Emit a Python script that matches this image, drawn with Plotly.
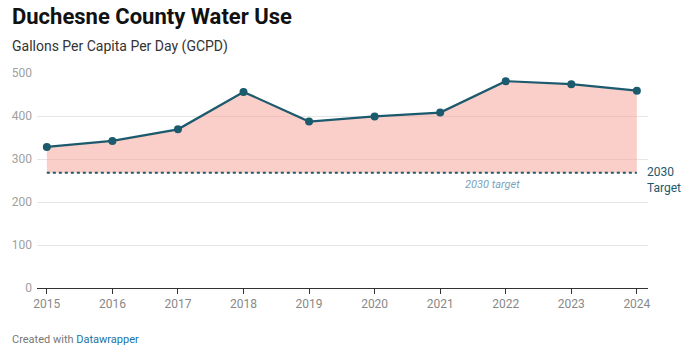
import plotly.graph_objects as go

years = [2015, 2016, 2017, 2018, 2019, 2020, 2021, 2022, 2023, 2024]
gcpd = [328, 342, 369, 456, 387, 399, 408, 481, 474, 459]
target_value = 268
y_ticks = [0, 100, 200, 300, 400, 500]

line_color = "#1c5a6d"
fill_color = "rgba(248,160,148,0.5)"
font = "Roboto"

fig = go.Figure()
fig.add_trace(go.Scatter(x=years, y=[target_value] * len(years), mode="lines",
                         line=dict(color=line_color, width=2, dash="dot"),
                         hoverinfo="skip", showlegend=False))
fig.add_trace(go.Scatter(x=years, y=gcpd, mode="lines+markers", fill="tonexty",
                         fillcolor=fill_color,
                         line=dict(color=line_color, width=2.2),
                         marker=dict(color=line_color, size=8),
                         showlegend=False))

fig.update_layout(
    width=687, height=351,
    margin=dict(l=37, r=39, t=73, b=63),
    paper_bgcolor="white", plot_bgcolor="white",
    font=dict(family=font),
    xaxis=dict(range=[2014.85, 2024.17], tickvals=years, ticktext=[str(y) for y in years],
               showgrid=False, zeroline=False, showline=True, linecolor="#333", linewidth=1,
               ticks="outside", ticklen=5, tickcolor="#333",
               tickfont=dict(size=12, color="#888", family=font)),
    yaxis=dict(range=[0, 500], tickvals=y_ticks, showgrid=True, gridcolor="#e6e6e6",
               zeroline=False, ticks="", tickfont=dict(size=12, color="#a0a0a0", family=font),
               ticklabelstandoff=4),
)

fig.add_annotation(xref="paper", yref="paper", x=1.0, y=target_value / 500, xanchor="left",
                   yanchor="middle", xshift=-3, yshift=-7, align="left", showarrow=False,
                   text="2030<br>Target", font=dict(size=12, color=line_color, family=font))
fig.add_annotation(x=2021.8, y=target_value, yanchor="top", yshift=-3, showarrow=False,
                   text="<i>2030 target</i>", font=dict(size=11, color="#7aa3bb", family=font))

left = (10 - 37) / 611
fig.add_annotation(xref="paper", yref="paper", x=left, y=1 + 56 / 215, xanchor="left",
                   yanchor="middle", showarrow=False, text="<b>Duchesne County Water Use</b>",
                   font=dict(size=22, color="#111", family=font))
fig.add_annotation(xref="paper", yref="paper", x=left, y=1 + 26 / 215, xanchor="left",
                   yanchor="middle", showarrow=False, text="Gallons Per Capita Per Day (GCPD)",
                   font=dict(size=14, color="#333", family=font))
fig.add_annotation(xref="paper", yref="paper", x=left, y=-51 / 215, xanchor="left",
                   yanchor="middle", showarrow=False,
                   text="Created with <span style='color:#1a73a8'>Datawrapper</span>",
                   font=dict(size=11, color="#777", family=font))

fig.write_html("out.html")
